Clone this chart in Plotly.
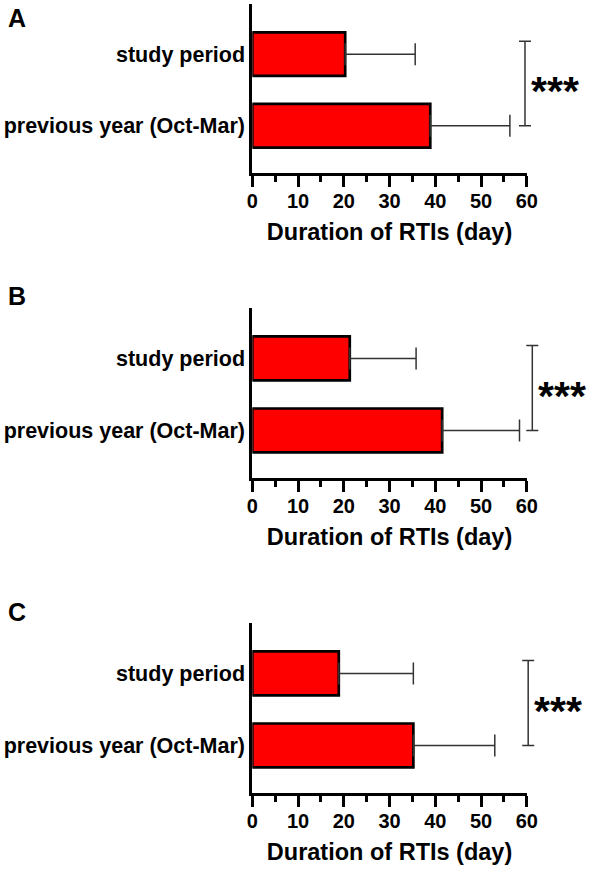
import plotly.graph_objects as go

# ---- data ----
categories = ["previous year (Oct-Mar)", "study period"]
panel_labels = ["A", "B", "C"]
means_A = [38.9, 20.3]
sd_A = [17.4, 15.3]
means_B = [41.5, 21.3]
sd_B = [16.9, 14.5]
means_C = [35.2, 18.9]
sd_C = [17.8, 16.3]
x_ticks = [0, 10, 20, 30, 40, 50, 60]
x_title = "Duration of RTIs (day)"
significance = ["***", "***", "***"]
bracket_x = [59.6, 61.2, 60.3]
bracket_span = [0, 1.18]

means = [means_A, means_B, means_C]
sds = [sd_A, sd_B, sd_C]

# ---- layout geometry (pixels) ----
W, H = 600, 873
x0px, x1px = 253.5, 536.0
ydom_px = [(4, 173), (308, 478), (623, 793)]
letter_pos = [(11, 18), (11, 296), (11, 612)]
xmax = 60
ext_max = xmax * (W - x0px) / (x1px - x0px)
FONT = "Liberation Sans"

fig = go.Figure()
layout = dict(
    width=W, height=H, margin=dict(l=0, r=0, t=0, b=0),
    paper_bgcolor="white", plot_bgcolor="rgba(0,0,0,0)", showlegend=False,
    font=dict(family=FONT, color="black"),
)
annotations = []

for i in range(3):
    n = i + 1
    ne = i + 4
    sx = "" if n == 1 else str(n)
    top, bot = ydom_px[i]
    ydom = [1 - bot / H, 1 - top / H]
    layout[f"xaxis{sx}"] = dict(
        domain=[x0px / W, x1px / W], range=[0, xmax], anchor=f"y{sx}",
        showline=True, linewidth=3, linecolor="black",
        ticks="outside", ticklen=11, tickwidth=3, tickcolor="black",
        tickvals=x_ticks, showgrid=False, zeroline=False,
        ticklabelstandoff=-3,
        tickfont=dict(family=FONT, size=20, weight="bold", color="black"),
        minor=dict(dtick=5, ticks="outside", ticklen=6, tickwidth=2.5, tickcolor="black", showgrid=False),
        title=dict(text=x_title, standoff=13,
                   font=dict(family=FONT, size=23.5, weight="bold", color="black")),
        fixedrange=True,
    )
    layout[f"xaxis{ne}"] = dict(
        domain=[x0px / W, 1.0], range=[0, ext_max], anchor=f"y{sx}",
        visible=False, fixedrange=True,
    )
    layout[f"yaxis{sx}"] = dict(
        domain=ydom, range=[-0.66, 1.70], anchor=f"x{sx}",
        showline=True, linewidth=3, linecolor="black",
        ticks="", tickvals=[0, 1], ticktext=categories,
        showgrid=False, zeroline=False,
        tickfont=dict(family=FONT, size=21.5, weight="bold", color="black"),
        fixedrange=True,
    )
    fig.add_trace(go.Bar(
        x=means[i], y=[0, 1], orientation="h", width=0.61,
        marker=dict(color="#FF0000", line=dict(color="black", width=2.7)),
        error_x=dict(type="data", array=sds[i], arrayminus=[0, 0], symmetric=False,
                     color="#333333", thickness=1.5, width=11),
        xaxis=f"x{sx}", yaxis=f"y{sx}", hoverinfo="skip",
    ))
    lo, hi = bracket_span
    mid = (lo + hi) / 2
    fig.add_trace(go.Scatter(
        x=[bracket_x[i]], y=[mid], mode="markers",
        marker=dict(size=1, color="rgba(0,0,0,0)"),
        error_y=dict(type="data", array=[(hi - lo) / 2], symmetric=True,
                     color="#333333", thickness=1.5, width=6),
        xaxis=f"x{ne}", yaxis=f"y{sx}", hoverinfo="skip",
    ))
    annotations.append(dict(
        x=bracket_x[i], y=mid, xref=f"x{ne}", yref=f"y{sx}",
        text=significance[i], showarrow=False, xanchor="left", yanchor="middle",
        xshift=4, yshift=-8,
        font=dict(family=FONT, size=41, weight="bold", color="black"),
    ))
    lx, ly = letter_pos[i]
    annotations.append(dict(
        x=lx / W, y=1 - ly / H, xref="paper", yref="paper",
        text=panel_labels[i], showarrow=False, xanchor="center", yanchor="middle",
        font=dict(family=FONT, size=25, weight="bold", color="black"),
    ))

layout["annotations"] = annotations
fig.update_layout(**layout)
fig.write_html(
    "out.html",
    config={"displayModeBar": False},
    post_script="document.body.style.margin='0';document.body.style.padding='0';",
)
